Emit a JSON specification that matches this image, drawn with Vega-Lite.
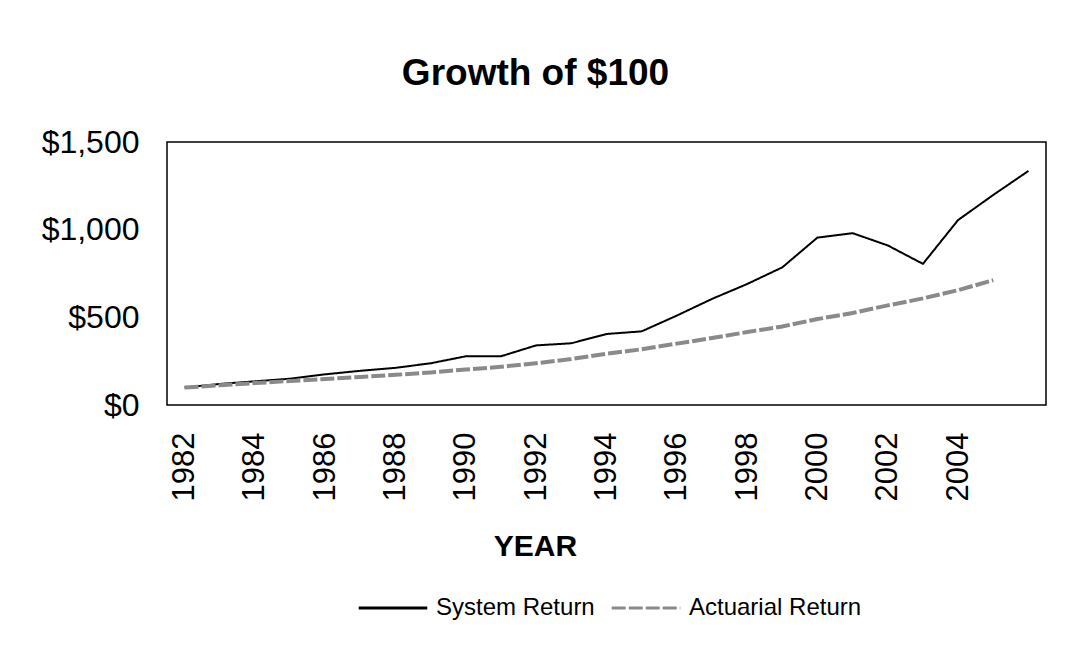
{
  "$schema": "https://vega.github.io/schema/vega-lite/v6.json",
  "width": 879,
  "height": 263,
  "autosize": {"type": "none"},
  "padding": {"left": 167, "top": 142, "right": 22, "bottom": 265},
  "background": "white",
  "title": {
    "text": "Growth of $100",
    "font": "Liberation Sans",
    "fontSize": 37,
    "fontWeight": "bold",
    "color": "#000",
    "anchor": "middle",
    "frame": "group",
    "baseline": "alphabetic",
    "offset": 4,
    "dx": -71
  },
  "config": {
    "view": {"stroke": "#000", "strokeWidth": 1.5},
    "font": "Liberation Sans"
  },
  "data": {
    "values": [
      {"year": 1982, "series": "System Return", "value": 100},
      {"year": 1983, "series": "System Return", "value": 120},
      {"year": 1984, "series": "System Return", "value": 135},
      {"year": 1985, "series": "System Return", "value": 150},
      {"year": 1986, "series": "System Return", "value": 175},
      {"year": 1987, "series": "System Return", "value": 195},
      {"year": 1988, "series": "System Return", "value": 212},
      {"year": 1989, "series": "System Return", "value": 238},
      {"year": 1990, "series": "System Return", "value": 278},
      {"year": 1991, "series": "System Return", "value": 278},
      {"year": 1992, "series": "System Return", "value": 340},
      {"year": 1993, "series": "System Return", "value": 352},
      {"year": 1994, "series": "System Return", "value": 405},
      {"year": 1995, "series": "System Return", "value": 420},
      {"year": 1996, "series": "System Return", "value": 510},
      {"year": 1997, "series": "System Return", "value": 605},
      {"year": 1998, "series": "System Return", "value": 690},
      {"year": 1999, "series": "System Return", "value": 785},
      {"year": 2000, "series": "System Return", "value": 955},
      {"year": 2001, "series": "System Return", "value": 980},
      {"year": 2002, "series": "System Return", "value": 910},
      {"year": 2003, "series": "System Return", "value": 805},
      {"year": 2004, "series": "System Return", "value": 1055},
      {"year": 2005, "series": "System Return", "value": 1198},
      {"year": 2006, "series": "System Return", "value": 1335},
      {"year": 1982, "series": "Actuarial Return", "value": 100},
      {"year": 1983, "series": "Actuarial Return", "value": 112},
      {"year": 1984, "series": "Actuarial Return", "value": 125},
      {"year": 1985, "series": "Actuarial Return", "value": 137},
      {"year": 1986, "series": "Actuarial Return", "value": 148},
      {"year": 1987, "series": "Actuarial Return", "value": 160},
      {"year": 1988, "series": "Actuarial Return", "value": 172},
      {"year": 1989, "series": "Actuarial Return", "value": 186},
      {"year": 1990, "series": "Actuarial Return", "value": 202},
      {"year": 1991, "series": "Actuarial Return", "value": 218},
      {"year": 1992, "series": "Actuarial Return", "value": 238},
      {"year": 1993, "series": "Actuarial Return", "value": 262},
      {"year": 1994, "series": "Actuarial Return", "value": 292},
      {"year": 1995, "series": "Actuarial Return", "value": 318},
      {"year": 1996, "series": "Actuarial Return", "value": 350},
      {"year": 1997, "series": "Actuarial Return", "value": 382},
      {"year": 1998, "series": "Actuarial Return", "value": 416},
      {"year": 1999, "series": "Actuarial Return", "value": 448},
      {"year": 2000, "series": "Actuarial Return", "value": 490},
      {"year": 2001, "series": "Actuarial Return", "value": 525},
      {"year": 2002, "series": "Actuarial Return", "value": 568},
      {"year": 2003, "series": "Actuarial Return", "value": 608},
      {"year": 2004, "series": "Actuarial Return", "value": 655},
      {"year": 2005, "series": "Actuarial Return", "value": 712}
    ]
  },
  "mark": {"type": "line", "strokeCap": "butt"},
  "encoding": {
    "x": {
      "field": "year",
      "type": "ordinal",
      "scale": {"type": "point", "padding": 0.5},
      "axis": {
        "title": "YEAR",
        "titleFont": "Liberation Sans",
        "titleFontSize": 30,
        "titleFontWeight": "bold",
        "titleColor": "#000",
        "titleX": 368,
        "titleY": 150,
        "titleAlign": "center",
        "titleBaseline": "alphabetic",
        "labelAngle": -90,
        "labelAlign": "right",
        "labelBaseline": "middle",
        "labelFontSize": 31,
        "labelColor": "#000",
        "labelPadding": 27,
        "labelExpr": "(datum.value % 2 == 0 && datum.value != 2006) ? datum.label : ''",
        "ticks": false,
        "domain": false,
        "grid": false,
        "labelOverlap": false
      }
    },
    "y": {
      "field": "value",
      "type": "quantitative",
      "scale": {"domain": [0, 1500], "nice": false},
      "axis": {
        "title": null,
        "values": [0, 500, 1000, 1500],
        "format": "$,.0f",
        "labelFontSize": 32,
        "labelColor": "#000",
        "labelPadding": 28,
        "ticks": false,
        "domain": false,
        "grid": false
      }
    },
    "color": {
      "field": "series",
      "type": "nominal",
      "scale": {"domain": ["System Return", "Actuarial Return"], "range": ["#000000", "#8a8a8a"]},
      "legend": {
        "title": null,
        "orient": "none",
        "direction": "horizontal",
        "legendX": 190,
        "legendY": 430,
        "labelFontSize": 24,
        "labelColor": "#000",
        "labelLimit": 0,
        "symbolType": "stroke",
        "symbolSize": 4700,
        "symbolStrokeWidth": 3,
        "labelOffset": 7,
        "columnPadding": 10
      }
    },
    "strokeDash": {
      "field": "series",
      "type": "nominal",
      "scale": {"domain": ["System Return", "Actuarial Return"], "range": [[1, 0], [14, 3]]},
      "legend": {
        "title": null,
        "orient": "none",
        "direction": "horizontal",
        "legendX": 190,
        "legendY": 430,
        "labelFontSize": 24,
        "labelColor": "#000",
        "labelLimit": 0,
        "symbolType": "stroke",
        "symbolSize": 4700,
        "symbolStrokeWidth": 3,
        "labelOffset": 7,
        "columnPadding": 10
      }
    },
    "strokeWidth": {
      "condition": {"test": "datum.series === 'Actuarial Return'", "value": 4},
      "value": 2
    }
  }
}
